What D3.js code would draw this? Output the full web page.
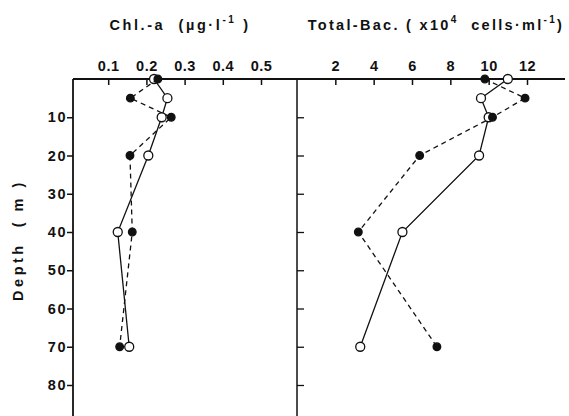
<!DOCTYPE html>
<html>
<head>
<meta charset="utf-8">
<script src="https://cdn.jsdelivr.net/npm/d3@7"></script>
<style>
  body { margin: 0; background: #fff; }
  svg text { font-family: 'Liberation Sans', Arial, sans-serif; font-weight: bold; fill: #111; white-space: pre; }
</style>
</head>
<body>
<div id="chart"></div>
<script>
// depth of samples (m)
var depths = [0, 5, 10, 20, 40, 70];
// Chl.-a, open circles (solid) and filled circles (dashed)
var chlOpen = [0.22, 0.255, 0.24, 0.205, 0.125, 0.155];
var chlFilled = [0.23, 0.158, 0.265, 0.157, 0.163, 0.13];
// Total bacteria, x10^4 cells/ml
var bacOpen = [11.0, 9.6, 10.0, 9.5, 5.5, 3.3];
var bacFilled = [9.8, 11.9, 10.2, 6.4, 3.2, 7.3];

var chlTicks = [0.1, 0.2, 0.3, 0.4, 0.5];
var bacTicks = [2, 4, 6, 8, 10, 12];
var depthTicks = [10, 20, 30, 40, 50, 60, 70, 80];

var width = 569;
var height = 416;
var topY = 79;
var leftX = 73;
var midX = 297;
var rightEnd = 565;

var svg = d3.select('#chart')
            .append('svg')
            .attr('width', width)
            .attr('height', height);

var y = d3.scaleLinear()
          .domain([0, 80])
          .range([topY, 385]);

var xChl = d3.scaleLinear()
             .domain([0, 0.5])
             .range([70, 261]);

var xBac = d3.scaleLinear()
             .domain([0, 12])
             .range([midX, 527]);

// top axis line spanning both panels
svg.append('line')
   .attr('x1', leftX).attr('x2', rightEnd)
   .attr('y1', topY).attr('y2', topY)
   .attr('stroke', '#111').attr('stroke-width', 2);

// left axis and divider
svg.append('line')
   .attr('x1', leftX).attr('x2', leftX)
   .attr('y1', topY).attr('y2', height)
   .attr('stroke', '#111').attr('stroke-width', 1.8);
svg.append('line')
   .attr('x1', midX).attr('x2', midX)
   .attr('y1', topY).attr('y2', height)
   .attr('stroke', '#111').attr('stroke-width', 1.5);

// top axes, ticks point inward
function topAxis(scale, ticks, fmt) {
  var g = svg.append('g')
             .attr('transform', 'translate(0,' + topY + ')')
             .call(d3.axisTop(scale)
                     .tickValues(ticks)
                     .tickFormat(fmt)
                     .tickSizeInner(-6)
                     .tickSizeOuter(0)
                     .tickPadding(8));
  g.select('.domain').remove();
  g.attr('font-family', null).attr('font-size', null);
  g.selectAll('line').attr('stroke', '#111').attr('stroke-width', 1.5);
  g.selectAll('text')
   .attr('font-size', 14.5)
   .attr('fill', null)
   .attr('letter-spacing', 0.5);
  return g;
}
topAxis(xChl, chlTicks, d3.format('.1f'));
topAxis(xBac, bacTicks, d3.format('d'));

// depth axis on the left, ticks outward
var yg = svg.append('g')
            .attr('transform', 'translate(' + leftX + ',0)')
            .call(d3.axisLeft(y)
                    .tickValues(depthTicks)
                    .tickSizeInner(6)
                    .tickSizeOuter(0)
                    .tickPadding(0));
yg.select('.domain').remove();
yg.attr('font-family', null).attr('font-size', null);
yg.selectAll('line').attr('stroke', '#111').attr('stroke-width', 1.5);
yg.selectAll('text').attr('font-size', 14.5).attr('fill', null).attr('letter-spacing', 1.5);

// ticks on the divider, pointing right
var dg = svg.append('g')
            .attr('transform', 'translate(' + midX + ',0)')
            .call(d3.axisRight(y)
                    .tickValues(depthTicks)
                    .tickSizeInner(7)
                    .tickSizeOuter(0)
                    .tickFormat(''));
dg.select('.domain').remove();
dg.selectAll('line').attr('stroke', '#111').attr('stroke-width', 1.3);

// titles
var t1 = svg.append('text')
            .attr('x', 180).attr('y', 30)
            .attr('text-anchor', 'middle')
            .attr('font-size', 14.5)
            .attr('letter-spacing', 2.6);
t1.append('tspan').text('Chl.-a  (µg·l');
t1.append('tspan').attr('dy', -7).attr('font-size', 10).text('-1');
t1.append('tspan').attr('dy', 7).text(' )');

var t2 = svg.append('text')
            .attr('x', 436).attr('y', 30)
            .attr('text-anchor', 'middle')
            .attr('font-size', 14.5)
            .attr('letter-spacing', 2.3);
t2.append('tspan').text('Total-Bac. ( x10');
t2.append('tspan').attr('dy', -7).attr('font-size', 10).text('4');
t2.append('tspan').attr('dy', 7).text('  cells·ml');
t2.append('tspan').attr('dy', -7).attr('font-size', 10).text('-1');
t2.append('tspan').attr('dy', 7).text(')');

svg.append('text')
   .attr('transform', 'translate(23,' + 240 + ')rotate(-90)')
   .attr('text-anchor', 'middle')
   .attr('font-size', 14.5)
   .attr('letter-spacing', 3.5)
   .text('Depth  ( m )');

// profiles
function profile(scale, values, dashed, filled) {
  var pts = values.map(function (v, i) { return [scale(v), y(depths[i])]; });
  svg.append('path')
     .datum(pts)
     .attr('d', d3.line())
     .attr('fill', 'none')
     .attr('stroke', '#111')
     .attr('stroke-width', 1.3)
     .attr('stroke-dasharray', dashed ? '5,4' : null);
  svg.selectAll(null)
     .data(pts)
     .enter()
     .append('circle')
       .attr('cx', function (d) { return d[0]; })
       .attr('cy', function (d) { return d[1]; })
       .attr('r', filled ? 3.8 : 4.5)
       .attr('fill', filled ? '#111' : '#fff')
       .attr('stroke', '#111')
       .attr('stroke-width', 1.3);
}
profile(xChl, chlOpen, false, false);
profile(xChl, chlFilled, true, true);
profile(xBac, bacOpen, false, false);
profile(xBac, bacFilled, true, true);
</script>
</body>
</html>
